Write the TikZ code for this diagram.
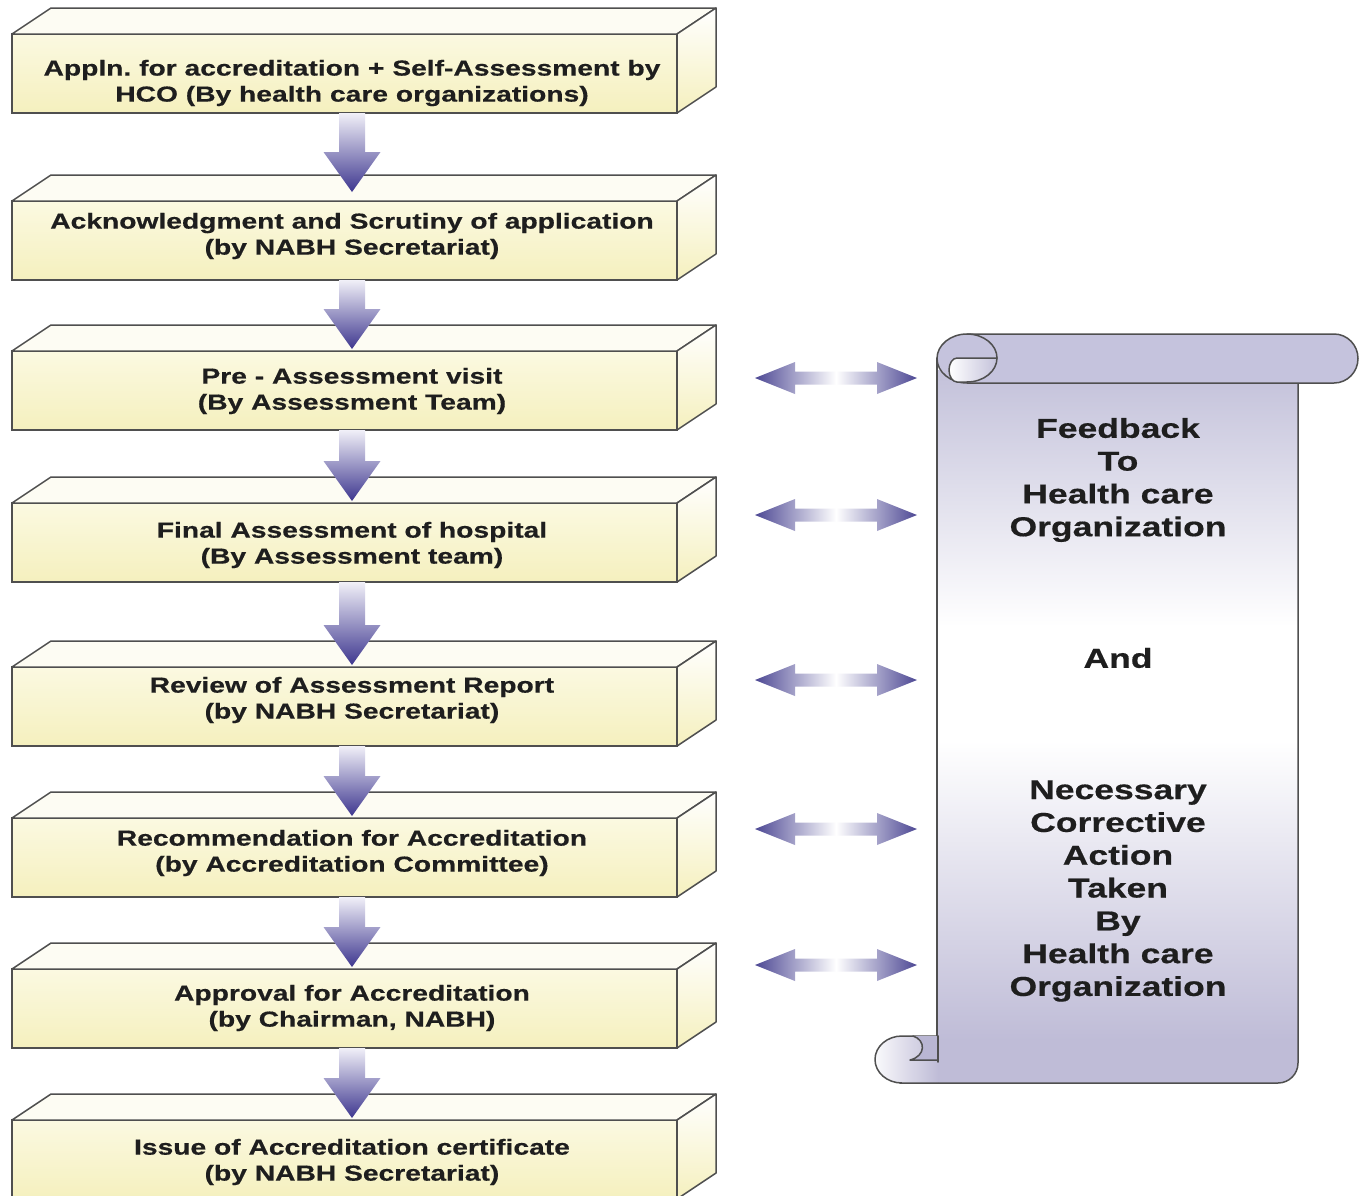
\documentclass[tikz,border=0pt]{standalone}
\usepackage{fontspec}
\setmainfont{Liberation Sans}[FakeStretch=1.3, FakeBold=0.5]
\usetikzlibrary{calc}
\frenchspacing
\definecolor{edge}{HTML}{4F4F4F}
\definecolor{txt}{HTML}{1E1E1E}
\definecolor{yelT}{HTML}{FBF9E1}
\definecolor{yelB}{HTML}{F5F0BE}
\definecolor{topface}{HTML}{FDFCF3}
\definecolor{arrL}{HTML}{F1F0F8}
\definecolor{arrD}{HTML}{3E378F}
\definecolor{dblD}{HTML}{4D4894}
\definecolor{lavT}{HTML}{C3C1DA}
\definecolor{lavB}{HTML}{BFBCD7}
\definecolor{rollC}{HTML}{C5C3DD}
\definecolor{backC}{HTML}{B9B6D3}
\pgfdeclareverticalshading{scrollshade}{100bp}{color(0bp)=(lavB); color(28bp)=(lavB); color(49bp)=(white); color(57bp)=(white); color(75bp)=(lavT); color(100bp)=(lavT)}
\tikzset{
  front/.style={draw=edge, line width=1.5pt, minimum width=665pt, minimum height=79pt,
    inner sep=0pt, outer sep=0pt, top color=yelT, bottom color=yelB, anchor=north west},
  face/.style={draw=edge, line width=1.5pt, line join=round},
  edgeline/.style={draw=edge, line width=1.5pt, line join=round, line cap=round},
  boxtext/.style={font=\bfseries\fontsize{21.7}{26}\selectfont, text=txt, align=center, inner sep=0pt},
  scrolltext/.style={font=\bfseries\fontsize{27.3}{32.8}\selectfont, text=txt, align=center, inner sep=0pt},
  downarrow/.style={top color=arrL, bottom color=arrD, draw=none},
  dblarrow/.style={left color=dblD, right color=dblD, middle color=white, draw=none},
}
\newcommand\mkbox[4]{%
  \node[front] (#1) at (12,#2) {};
  \draw[face, fill=topface] (#1.north west) -- ++(39,-26) -- ++(665,0) -- (#1.north east) -- cycle;
  \draw[face, top color=white, bottom color=yelB] (#1.north east) -- ++(39,-26) -- ++(0,79) -- (#1.south east) -- cycle;
  \node[boxtext] (#1t) at (352,#3) {#4};
}
\newcommand\downarr[3]{%
  \path[downarrow] let \p1=([xshift=7.5pt]#1.south), \p2=([xshift=7.5pt,yshift=#3]#2.north) in
    (\x1-13pt,\y1) -- (\x1+13pt,\y1) -- (\x1+13pt,\y2+40pt) -- (\x1+28.5pt,\y2+40pt) --
    (\x2,\y2) -- (\x1-28.5pt,\y2+40pt) -- (\x1-13pt,\y2+40pt) -- cycle;
}
\newcommand\dblarr[2]{%
  \path[dblarrow] let \p1=(#1), \p2=(#2) in
    (\x1,\y1) -- (\x1+40pt,\y1+16pt) -- (\x1+40pt,\y1+6.5pt) -- (\x2-40pt,\y1+6.5pt) --
    (\x2-40pt,\y1+16pt) -- (\x2,\y1) -- (\x2-40pt,\y1-16pt) -- (\x2-40pt,\y1-6.5pt) --
    (\x1+40pt,\y1-6.5pt) -- (\x1+40pt,\y1-16pt) -- cycle;
}
\begin{document}
\begin{tikzpicture}[x=1pt, y=-1pt]
\fill[white] (0,0) rectangle (1363,1195);
\useasboundingbox (0,0) rectangle (1363,1195);
\begin{scope}
\clip (0,0) rectangle (1363,1195);
% ---- boxes ----
\mkbox{b1}{34}{83}{Appln. for accreditation + Self-Assessment by\\HCO (By health care organizations)}
\mkbox{b2}{201}{236}{Acknowledgment and Scrutiny of application\\(by NABH Secretariat)}
\mkbox{b3}{351}{391}{Pre - Assessment visit\\(By Assessment Team)}
\mkbox{b4}{503}{545}{Final Assessment of hospital\\(By Assessment team)}
\mkbox{b5}{667}{700}{Review of Assessment Report\\(by NABH Secretariat)}
\mkbox{b6}{818}{853}{Recommendation for Accreditation\\(by Accreditation Committee)}
\mkbox{b7}{969}{1008}{Approval for Accreditation\\(by Chairman, NABH)}
\mkbox{b8}{1120}{1162}{Issue of Accreditation certificate\\(by NABH Secretariat)}
% ---- down arrows ----
\downarr{b1}{b2}{9pt}
\downarr{b2}{b3}{2pt}
\downarr{b3}{b4}{2pt}
\downarr{b4}{b5}{2pt}
\downarr{b5}{b6}{2pt}
\downarr{b6}{b7}{2pt}
\downarr{b7}{b8}{2pt}
% ---- double arrows ----
\coordinate (l3) at (755,378);  \coordinate (r3) at (917,378);
\coordinate (l4) at (755,515);  \coordinate (r4) at (917,515);
\coordinate (l5) at (755,680);  \coordinate (r5) at (917,680);
\coordinate (l6) at (755,829);  \coordinate (r6) at (917,829);
\coordinate (l7) at (755,965);  \coordinate (r7) at (917,965);
\dblarr{l3}{r3}
\dblarr{l4}{r4}
\dblarr{l5}{r5}
\dblarr{l6}{r6}
\dblarr{l7}{r7}
% ---- scroll ----
\shade[shading=scrollshade] (937,370) -- (1298,370) -- (1298,1063)
  arc[start angle=0, end angle=-90, radius=20pt] -- (938,1083) -- cycle;
\draw[edgeline] (937,358) -- (937,1036);
\draw[edgeline] (900,1083) -- (1278,1083) arc[start angle=-90, end angle=0, radius=20pt] -- (1298,383);
% bottom curl
\shade[left color=white!92!lavB, right color=lavB] (938,1036) -- (902,1036)
  arc[start angle=90, end angle=270, x radius=27pt, y radius=23.5pt] -- (938,1083) -- cycle;
\draw[edgeline] (938,1036) -- (902,1036)
  arc[start angle=90, end angle=270, x radius=27pt, y radius=23.5pt] -- (938,1083);
\fill[backC] (913,1036) .. controls (926,1040) and (926,1056) .. (910,1060) -- (938,1060) -- (938,1036) -- cycle;
\draw[edgeline] (913,1036) .. controls (926,1040) and (926,1056) .. (910,1060) -- (938,1060);
\draw[edgeline] (938,1036) -- (938,1062);
% top roll
\draw[face, fill=rollC] (967,334) -- (1334,334)
  arc[start angle=90, end angle=-90, x radius=24pt, y radius=24.5pt] -- (967,383)
  arc[start angle=270, end angle=90, x radius=30pt, y radius=24.5pt] -- cycle;
\shade[left color=white, right color=lavT] (997,358) -- (957,358)
  arc[start angle=90, end angle=270, x radius=8pt, y radius=12pt] -- (967,382)
  arc[start angle=-90, end angle=0, x radius=30pt, y radius=24pt] -- cycle;
\draw[edgeline] (997,358) -- (957,358)
  arc[start angle=90, end angle=270, x radius=8pt, y radius=12pt] -- (967,382);
\draw[edgeline] (967,334) arc[start angle=90, end angle=-90, x radius=30pt, y radius=24pt];
% scroll text
\node[scrolltext] (s1) at (1118,480) {Feedback\\To\\Health care\\Organization};
\node[scrolltext] (s2) at (1118,658) {And};
\node[scrolltext] (s3) at (1118,891) {Necessary\\Corrective\\Action\\Taken\\By\\Health care\\Organization};
\end{scope}
\end{tikzpicture}
\end{document}
